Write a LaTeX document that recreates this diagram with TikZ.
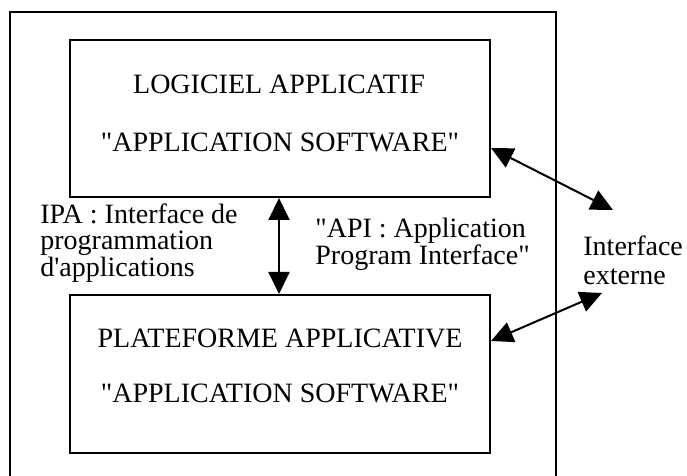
\documentclass[tikz,border=0pt]{standalone}
\usepackage{fontspec}
\setmainfont{Liberation Serif}
\usetikzlibrary{arrows.meta}
\begin{document}
\begin{tikzpicture}[x=0.5pt,y=-0.5pt,
  frame/.style={draw, line width=1pt},
  box/.style={draw, line width=1pt, minimum width=210pt, inner sep=0pt},
  lbl/.style={font=\fontsize{14}{13.25}\selectfont, inner sep=0pt},
  multi/.style={lbl, align=left, anchor=north west},
  tip/.tip={Triangle[length=11pt,width=10.5pt]},
  link/.style={line width=1pt, tip-tip}]
\useasboundingbox (0,0) rectangle (687,476);
\clip (0,0) rectangle (687,476);

% outer frame (runs past the lower edge)
\draw[frame] (10,490) -- (10,12) -- (556,12) -- (556,490);

% the two layers
\node[box, minimum height=78.5pt] (soft) at (280,118.5) {};
\node[box, minimum height=79pt]   (plat) at (280,374) {};

\node[lbl, anchor=base] (soft1) at (279,94)  {LOGICIEL APPLICATIF};
\node[lbl, anchor=base] (soft2) at (280,152) {\textquotedbl APPLICATION SOFTWARE\textquotedbl};
\node[lbl, anchor=base] (plat1) at (280,348) {PLATEFORME APPLICATIVE};
\node[lbl, anchor=base] (plat2) at (280,403) {\textquotedbl APPLICATION SOFTWARE\textquotedbl};

% interface labels
\node[multi] (ipa) at (40,203)
  {IPA : Interface de\\programmation\\d\textquotesingle applications};
\node[multi] (api) at (315,218)
  {\textquotedbl API : Application\\Program Interface\textquotedbl};
\node[multi, font=\fontsize{14}{14.5}\selectfont] (ext) at (583,235)
  {Interface\\externe};

% connectors
\coordinate (ext1) at (613,210);
\coordinate (ext2) at (602,293);
\draw[link] ([xshift=-0.5pt]soft.south) -- ([xshift=-0.5pt]plat.north);
\draw[link] (soft.east |- 0,148) -- (ext1);
\draw[link] (plat.east |- 0,341) -- (ext2);
\end{tikzpicture}
\end{document}
